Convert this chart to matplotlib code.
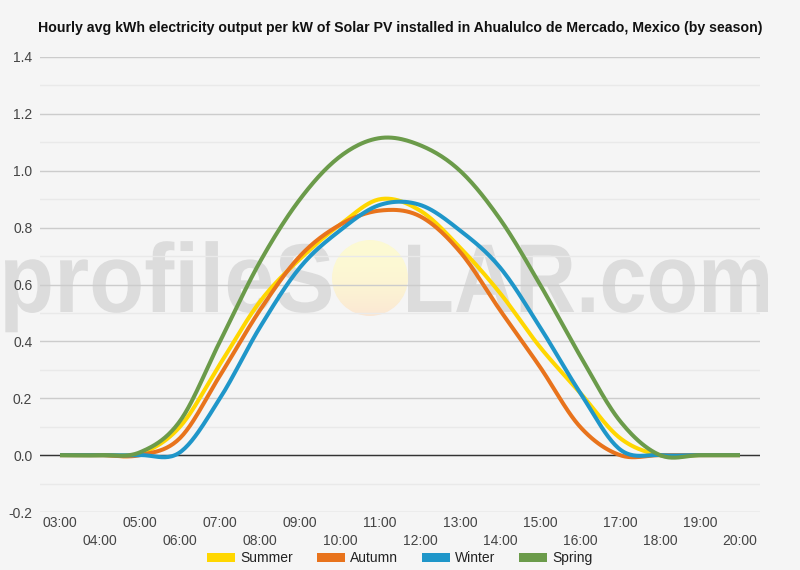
import numpy as np
import matplotlib
matplotlib.use("Agg")
import matplotlib.pyplot as plt
from matplotlib.textpath import TextPath
from matplotlib.patches import PathPatch, Circle, Patch
from matplotlib.font_manager import FontProperties
from matplotlib.transforms import Affine2D

# ---------------- data ----------------
hours = ["03:00", "04:00", "05:00", "06:00", "07:00", "08:00", "09:00", "10:00", "11:00",
         "12:00", "13:00", "14:00", "15:00", "16:00", "17:00", "18:00", "19:00", "20:00"]
summer = [0, 0, 0.005, 0.10, 0.32, 0.54, 0.69, 0.81, 0.90, 0.86, 0.73, 0.57, 0.38, 0.22, 0.06, 0, 0, 0]
autumn = [0, 0, 0, 0.06, 0.28, 0.51, 0.70, 0.81, 0.86, 0.84, 0.715, 0.51, 0.31, 0.10, 0, 0, 0, 0]
winter = [0, 0, 0, 0.01, 0.20, 0.45, 0.66, 0.79, 0.88, 0.88, 0.79, 0.66, 0.45, 0.22, 0.02, 0, 0, 0]
spring = [0, 0, 0.01, 0.12, 0.40, 0.68, 0.90, 1.05, 1.115, 1.09, 1.00, 0.83, 0.60, 0.35, 0.12, 0, 0, 0]
series_names = ["Summer", "Autumn", "Winter", "Spring"]
series_colors = ["#FFD700", "#E8731C", "#1F96C9", "#6B9B4A"]
title = "Hourly avg kWh electricity output per kW of Solar PV installed in Ahualulco de Mercado, Mexico (by season)"

BG = "#f5f5f5"
FONT = "Liberation Sans"
plt.rcParams["font.family"] = [FONT, "DejaVu Sans"]
FS = 10


def smooth(y, n=24):
    """Catmull-Rom curve through the hourly points (rendering like curveType='function')."""
    y = np.asarray(y, float)
    p = np.concatenate([[y[0]], y, [y[-1]]])
    xs, ys = [], []
    t = np.linspace(0, 1, n, endpoint=False)
    h00 = 2 * t**3 - 3 * t**2 + 1
    h10 = t**3 - 2 * t**2 + t
    h01 = -2 * t**3 + 3 * t**2
    h11 = t**3 - t**2
    for i in range(len(y) - 1):
        p0, p1, p2, p3 = p[i], p[i + 1], p[i + 2], p[i + 3]
        m1 = (p2 - p0) / 2
        m2 = (p3 - p1) / 2
        xs.append(i + t)
        ys.append(h00 * p1 + h10 * m1 + h01 * p2 + h11 * m2)
    xs.append([len(y) - 1])
    ys.append([y[-1]])
    return np.concatenate(xs), np.concatenate(ys)


W, H = 800, 570
fig = plt.figure(figsize=(W / 100, H / 100), dpi=100, facecolor=BG)

# ---------------- watermark ----------------
fp = FontProperties(family=FONT, weight="bold")
wm_color = "#dcdcdc"
cap_px = 70
baseline_px = 312


def add_word(text, x_left, x_right):
    tp = TextPath((0, 0), text, size=1, prop=fp)
    ext = tp.get_extents()
    sx = (x_right - x_left) / ext.width
    sy = cap_px / 0.716
    tr = (Affine2D().translate(-ext.x0, 0).scale(sx, sy)
          .translate(x_left, H - baseline_px).scale(1 / W, 1 / H) + fig.transFigure)
    patch = PathPatch(tp, transform=tr, facecolor=wm_color, edgecolor="none", zorder=-2)
    fig.add_artist(patch)


add_word("profileS", 5, 331)
add_word("LAR.com", 408, 768)

sun_cx, sun_cy, sun_r = 370, 278, 38
sun_ax = fig.add_axes([(sun_cx - sun_r) / W, 1 - (sun_cy + sun_r) / H, 2 * sun_r / W, 2 * sun_r / H], zorder=-1)
sun_ax.axis("off")
sun_ax.patch.set_alpha(0)
g = (np.linspace(0, 1, 200) ** 2.2)[:, None]
top = np.array([0.990, 0.980, 0.83])
bot = np.array([0.985, 0.905, 0.83])
img = top[None, None, :] * (1 - g[..., None]) + bot[None, None, :] * g[..., None]
img = np.repeat(img, 2, axis=1)
im = sun_ax.imshow(img, extent=[0, 1, 0, 1], aspect="auto", origin="upper")
im.set_clip_path(Circle((0.5, 0.5), 0.5, transform=sun_ax.transAxes))
sun_ax.set_xlim(0, 1)
sun_ax.set_ylim(0, 1)

# ---------------- main axes ----------------
ax = fig.add_axes([40 / W, 1 - 512 / H, 720 / W, 455 / H])
ax.patch.set_alpha(0)
ax.set_xlim(-0.5, len(hours) - 0.5)
ax.set_ylim(-0.2, 1.4)
major = np.round(np.arange(-0.2, 1.41, 0.2), 1)
ax.set_yticks(major)
ax.set_yticks(np.round(np.arange(-0.1, 1.4, 0.2), 1), minor=True)
ax.set_yticklabels([f"{v:.1f}" for v in major])
ax.grid(axis="y", which="major", color="#cccccc", lw=1)
ax.grid(axis="y", which="minor", color="#e9e9e9", lw=1)
ax.set_axisbelow(True)
ax.tick_params(axis="y", which="both", length=0, pad=5.5, labelsize=FS, labelcolor="#444444")
ax.set_xticks([])
for s in ax.spines.values():
    s.set_visible(False)
ax.axhline(0, color="#333333", lw=1, zorder=1)

for name, vals, col in zip(series_names, [summer, autumn, winter, spring], series_colors):
    xs, ys = smooth(vals)
    ax.plot(xs, ys, color=col, lw=2.9, solid_capstyle="butt", zorder=3)

xt = ax.get_xaxis_transform()
for i, lab in enumerate(hours):
    yoff = -11 / 455 if i % 2 == 0 else -29 / 455
    ax.text(i, yoff, lab, transform=xt, ha="center", va="center", fontsize=FS, color="#444444")

fig.text(0.5, 1 - 28 / H, title, ha="center", va="center", fontsize=10.2, weight="bold", color="#111111")

handles = [Patch(facecolor=c, edgecolor="none") for c in series_colors]
fig.legend(handles, series_names, loc="center", bbox_to_anchor=(0.5, 1 - 558 / H), ncol=4,
           frameon=False, fontsize=FS, handlelength=2.0, handleheight=0.6, handletextpad=0.4,
           columnspacing=1.7, labelcolor="#222222")

fig.savefig("out.png", dpi=100, facecolor=BG)
